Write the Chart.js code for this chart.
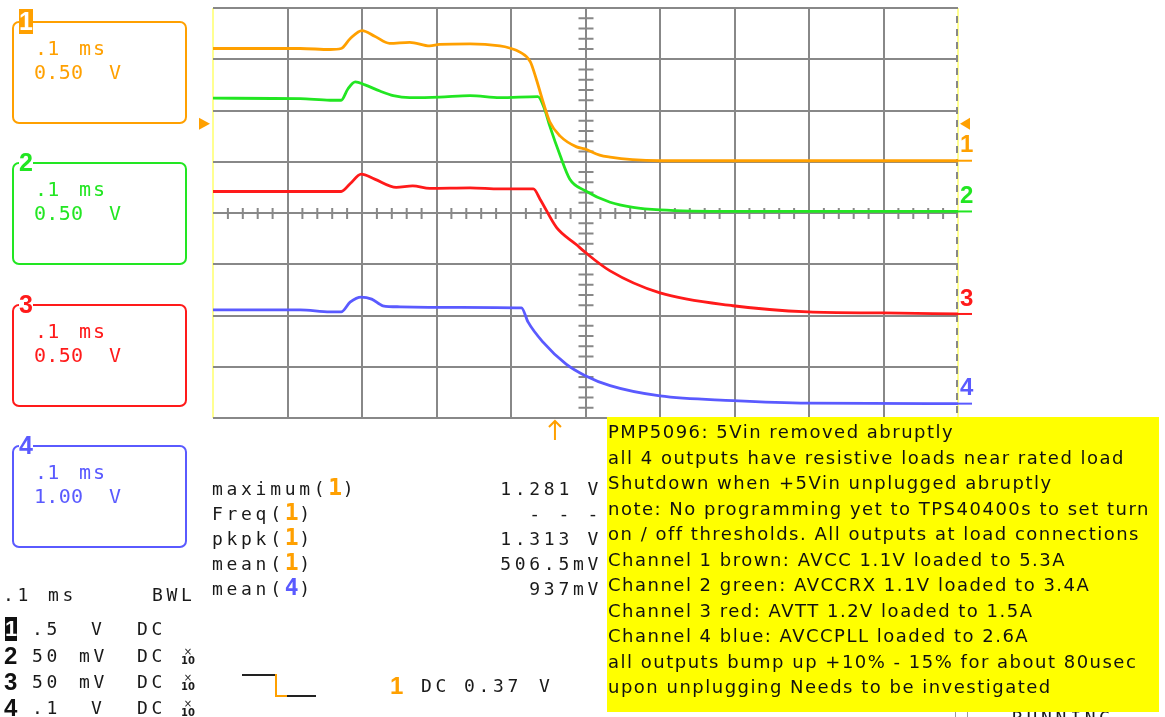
<!DOCTYPE html>
<html lang="en">
<head>
<meta charset="UTF-8">
<title>PMP5096 - 5Vin removed abruptly</title>
<script src="https://cdn.jsdelivr.net/npm/chart.js"></script>
<style>
    body {
        margin: 0;
        background: #fff;
    }
    .screen {
        position: relative;
        width: 1165px;
        height: 717px;
        overflow: hidden;
        background: #fff;
    }
    #scope {
        position: absolute;
        left: 0;
        top: 0;
    }
    #overlay {
        position: absolute;
        left: 0;
        top: 0;
        width: 1165px;
        height: 717px;
    }
    .t {
        position: absolute;
        white-space: pre;
        font-family: "DejaVu Sans Mono", monospace;
        font-size: 18px;
        letter-spacing: 3.7px;
        line-height: 24px;
        height: 24px;
        color: #1a1a1a;
    }
    .chtxt {
        font-size: 20px;
        letter-spacing: 0.3px;
    }
    .chbox {
        position: absolute;
        left: 12px;
        width: 171px;
        height: 99px;
        border: 2px solid;
        border-radius: 7px;
    }
    .tab {
        position: absolute;
        left: 19px;
        width: 14px;
        height: 24px;
        line-height: 24px;
        text-align: center;
        font-family: "Liberation Sans", Arial, sans-serif;
        font-weight: bold;
        font-size: 25px;
        background: #fff;
    }
    .bignum {
        position: absolute;
        font-family: "Liberation Sans", Arial, sans-serif;
        font-weight: bold;
        font-size: 24px;
        line-height: 24px;
        height: 24px;
    }
    .probe {
        position: absolute;
        font-family: "DejaVu Sans", sans-serif;
        font-size: 10px;
        line-height: 9px;
        text-align: center;
        width: 16px;
        color: #1a1a1a;
    }
    .seg {
        position: absolute;
    }
    #note {
        position: absolute;
        left: 607px;
        top: 417px;
        width: 552px;
        height: 295px;
        background: #ffff00;
        box-sizing: border-box;
        padding: 2px 0 0 1px;
        font-family: "DejaVu Sans", sans-serif;
        font-size: 18px;
        letter-spacing: 1.5px;
        line-height: 25.5px;
        color: #111;
        white-space: pre;
        overflow: hidden;
    }
</style>
</head>
<body>
<div class="screen">
    <canvas id="scope" width="1165" height="717"></canvas>
    <div id="overlay"></div>
</div>

<script>
    // Traces: time in µs from screen centre (100 µs/div), level in divisions from centre
    const ch1Time  = [-500, -383, -343, -328, -316, -300, -283, -263, -236, -209, -196, -155, -115, -102, -88, -74, -66, -57, -48, -34, -12, -1, 19, 33, 63, 100, 500];
    const ch1Level = [3.21, 3.21, 3.19, 3.21, 3.40, 3.56, 3.45, 3.31, 3.33, 3.26, 3.29, 3.30, 3.26, 3.22, 3.14, 2.95, 2.61, 2.17, 1.78, 1.50, 1.29, 1.25, 1.13, 1.09, 1.04, 1.02, 1.02];

    const ch2Time  = [-500, -383, -343, -328, -319, -309, -296, -276, -258, -236, -196, -155, -115, -64, -55, -48, -34, -21, -1, 33, 64, 100, 198, 500];
    const ch2Level = [2.24, 2.23, 2.20, 2.20, 2.42, 2.56, 2.50, 2.38, 2.29, 2.25, 2.26, 2.29, 2.25, 2.27, 2.03, 1.70, 1.12, 0.66, 0.44, 0.21, 0.11, 0.06, 0.03, 0.03];

    const ch3Time  = [-500, -383, -328, -316, -301, -283, -254, -232, -209, -155, -115, -70, -61, -39, -12, -1, 33, 100, 198, 299, 399, 500];
    const ch3Level = [0.42, 0.42, 0.42, 0.57, 0.76, 0.66, 0.50, 0.53, 0.48, 0.49, 0.47, 0.47, 0.27, -0.28, -0.62, -0.76, -1.13, -1.56, -1.81, -1.93, -1.95, -1.97];

    const ch4Time  = [-500, -383, -343, -328, -316, -301, -287, -272, -249, -168, -86, -77, -57, -26, -1, 33, 100, 198, 299, 500];
    const ch4Level = [-1.89, -1.89, -1.93, -1.93, -1.74, -1.64, -1.68, -1.81, -1.83, -1.84, -1.85, -2.13, -2.52, -2.95, -3.17, -3.37, -3.57, -3.66, -3.71, -3.72];

    const ch1RefLevel = 1.74;     // channel 1 marker on both edges
    const triggerTime = -41;      // trigger position arrow under the grid

    const channelNames  = ['1', '2', '3', '4'];
    const channelColors = ['#ffa000', '#22e622', '#ff1a1a', '#5a5aff'];
    const channelTimebase = ['.1 ms', '.1 ms', '.1 ms', '.1 ms'];
    const channelScale  = ['0.50 V', '0.50 V', '0.50 V', '1.00 V'];

    const measureNames   = ['maximum', 'Freq', 'pkpk', 'mean', 'mean'];
    const measureSources = [1, 1, 1, 1, 4];
    const measureValues  = ['1.281 V', '- - -', '1.313 V', '506.5mV', '937mV'];

    const rowScale    = ['.5', '50', '50', '.1'];
    const rowUnit     = ['V', 'mV', 'mV', 'V'];
    const rowCoupling = ['DC', 'DC', 'DC', 'DC'];
    const rowProbe    = [false, true, true, true];

    const noteLines = [
        'PMP5096: 5Vin removed abruptly',
        'all 4 outputs have resistive loads near rated load',
        'Shutdown when +5Vin unplugged abruptly',
        'note: No programming yet to TPS40400s to set turn',
        'on / off thresholds. All outputs at load connections',
        'Channel 1 brown: AVCC 1.1V loaded to 5.3A',
        'Channel 2 green: AVCCRX 1.1V loaded to 3.4A',
        'Channel 3 red: AVTT 1.2V loaded to 1.5A',
        'Channel 4 blue: AVCCPLL loaded to 2.6A',
        'all outputs bump up +10% - 15% for about 80usec',
        'upon unplugging Needs to be investigated'
    ];

    const traces = [[ch1Time, ch1Level], [ch2Time, ch2Level], [ch3Time, ch3Level], [ch4Time, ch4Level]];

    const gridGray = '#888888';
    const edgeYellow = '#ffff90';

    // graticule extras, channel markers and trigger arrow
    const scopeDecor = {
        id: 'scopeDecor',
        beforeDatasetsDraw(chart) {
            const { ctx, chartArea: a, scales: { x, y } } = chart;
            const x0 = x.getPixelForValue(0);
            const y0 = y.getPixelForValue(0);
            ctx.save();
            ctx.strokeStyle = gridGray;
            ctx.lineWidth = 2;
            ctx.beginPath();
            for (let i = -24; i <= 24; i++) {
                if (i % 5 === 0) continue;
                const px = x.getPixelForValue(i * 20);
                ctx.moveTo(px, y0 - 5);
                ctx.lineTo(px, y0 + 6);
            }
            for (let i = -19; i <= 19; i++) {
                if (i % 5 === 0) continue;
                const py = y.getPixelForValue(i / 5);
                ctx.moveTo(x0 - 7, py);
                ctx.lineTo(x0 + 8, py);
            }
            ctx.stroke();
            // dashed right edge over the yellow line
            ctx.setLineDash([7, 6]);
            ctx.beginPath();
            ctx.moveTo(a.right - 1, a.top + 8);
            ctx.lineTo(a.right - 1, a.bottom);
            ctx.stroke();
            ctx.restore();
        },
        afterDraw(chart) {
            const { ctx, chartArea: a, scales: { x, y } } = chart;
            ctx.save();
            // channel ground markers at the right edge
            chart.data.datasets.forEach((ds, i) => {
                const last = ds.data[ds.data.length - 1];
                const py = y.getPixelForValue(last.y);
                ctx.strokeStyle = ds.borderColor;
                ctx.lineWidth = 2;
                ctx.beginPath();
                ctx.moveTo(a.right, py);
                ctx.lineTo(a.right + 14, py);
                ctx.stroke();
                ctx.fillStyle = ds.borderColor;
                ctx.font = 'bold 24px "Liberation Sans", Arial, sans-serif';
                ctx.textBaseline = 'middle';
                ctx.fillText(channelNames[i], a.right + 2, py - 15);
            });
            // channel 1 reference triangles
            const ry = y.getPixelForValue(ch1RefLevel);
            ctx.fillStyle = channelColors[0];
            ctx.beginPath();
            ctx.moveTo(a.left - 14, ry - 6);
            ctx.lineTo(a.left - 3, ry);
            ctx.lineTo(a.left - 14, ry + 6);
            ctx.closePath();
            ctx.fill();
            ctx.beginPath();
            ctx.moveTo(a.right + 2, ry);
            ctx.lineTo(a.right + 12, ry - 6);
            ctx.lineTo(a.right + 12, ry + 6);
            ctx.closePath();
            ctx.fill();
            // trigger position arrow
            const tx = x.getPixelForValue(triggerTime);
            ctx.strokeStyle = channelColors[0];
            ctx.lineWidth = 2;
            ctx.beginPath();
            ctx.moveTo(tx, a.bottom + 3);
            ctx.lineTo(tx, a.bottom + 22);
            ctx.moveTo(tx - 6, a.bottom + 9);
            ctx.lineTo(tx, a.bottom + 3);
            ctx.lineTo(tx + 6, a.bottom + 9);
            ctx.stroke();
            ctx.restore();
        }
    };

    const edgeColor = c => (c.tick && Math.abs(c.tick.value) === 500) ? edgeYellow : gridGray;

    new Chart(document.getElementById('scope'), {
        type: 'line',
        data: {
            datasets: traces.map((tr, i) => ({
                label: 'Channel ' + channelNames[i],
                data: tr[0].map((t, k) => ({ x: t, y: tr[1][k] })),
                borderColor: channelColors[i],
                borderWidth: 2.8,
                pointRadius: 0,
                cubicInterpolationMode: 'monotone',
                fill: false
            }))
        },
        options: {
            responsive: false,
            animation: false,
            events: [],
            layout: { padding: { left: 213, right: 207, top: 8, bottom: 299 } },
            scales: {
                x: {
                    type: 'linear',
                    min: -500,
                    max: 500,
                    ticks: { stepSize: 100, display: false },
                    grid: { color: edgeColor, lineWidth: 2, drawTicks: false },
                    border: { display: false },
                    afterFit(s) { s.height = 0; }
                },
                y: {
                    min: -4,
                    max: 4,
                    ticks: { stepSize: 1, display: false },
                    grid: { color: gridGray, lineWidth: 2, drawTicks: false },
                    border: { display: false },
                    afterFit(s) { s.width = 0; }
                }
            },
            plugins: {
                legend: { display: false },
                tooltip: { enabled: false }
            }
        },
        plugins: [scopeDecor]
    });

    // ---- text panels ----
    const overlay = document.getElementById('overlay');

    function addEl(cls, html, left, top, style) {
        const d = document.createElement('div');
        d.className = cls;
        d.innerHTML = html;
        d.style.left = left + 'px';
        d.style.top = top + 'px';
        if (style) Object.assign(d.style, style);
        overlay.appendChild(d);
        return d;
    }

    // channel setting boxes on the left
    const boxTops = [21, 162, 304, 445];
    channelNames.forEach((name, i) => {
        const top = boxTops[i];
        const col = channelColors[i];
        addEl('chbox', '', 12, top, { borderColor: col });
        if (i === 0) {
            addEl('tab', name, 19, top - 12, { background: col, color: '#fff', height: '25px' });
        } else {
            addEl('tab', name, 19, top - 12, { color: col });
        }
        const [tbNum, tbUnit] = channelTimebase[i].split(' ');
        const [scNum, scUnit] = channelScale[i].split(' ');
        addEl('t chtxt', tbNum, 35, top + 27 - 12, { color: col });
        addEl('t chtxt', tbUnit, 79, top + 27 - 12, { color: col, letterSpacing: '2px' });
        addEl('t chtxt', scNum, 34, top + 51 - 12, { color: col });
        addEl('t chtxt', scUnit, 109, top + 51 - 12, { color: col });
    });

    // measurement readouts
    measureNames.forEach((name, i) => {
        const cy = 489 + 25 * i;
        const src = measureSources[i];
        const col = channelColors[src - 1];
        addEl('t', name + '(<b style="color:' + col + ';font-size:23px;letter-spacing:0.6px;line-height:0">' + src + '</b>)', 212, cy - 12);
        addEl('t', measureValues[i], 0, cy - 12, { right: '563px', left: 'auto', textAlign: 'right' });
    });

    // acquisition settings, bottom left
    addEl('t', '.1', 3, 595 - 12);
    addEl('t', 'ms', 48, 595 - 12);
    addEl('t', 'BWL', 152, 595 - 12);

    const rowCentres = [629, 656, 682, 708];
    rowScale.forEach((sc, i) => {
        const cy = rowCentres[i];
        if (i === 0) {
            addEl('bignum', channelNames[i], 5, cy - 12, { background: '#111', color: '#fff', width: '12px', textAlign: 'center', fontSize: '22px' });
        } else {
            addEl('bignum', channelNames[i], 4, cy - 12, { color: '#111' });
        }
        addEl('t', sc, 32, cy - 12);
        addEl('t', rowUnit[i], rowUnit[i] === 'V' ? 91 : 79, cy - 12);
        addEl('t', rowCoupling[i], 137, cy - 12);
        if (rowProbe[i]) addEl('probe', '×<br><b>10</b>', 180, cy - 9);
    });

    // trigger symbol and trigger level readout
    addEl('seg', '', 242, 674, { width: '33px', height: '2px', background: '#222' });
    addEl('seg', '', 275, 674, { width: '2px', height: '23px', background: channelColors[0] });
    addEl('seg', '', 275, 695, { width: '12px', height: '2px', background: channelColors[0] });
    addEl('seg', '', 287, 695, { width: '29px', height: '2px', background: '#222' });
    addEl('bignum', '1', 390, 686 - 12, { color: channelColors[0] });
    addEl('t', 'DC', 421, 686 - 12);
    addEl('t', '0.37', 464, 686 - 12);
    addEl('t', 'V', 539, 686 - 12);

    // run state partly hidden behind the note
    addEl('seg', '', 955, 709, { width: '11px', height: '11px', border: '1px solid #999' });
    addEl('t', 'RUNNING', 1012, 706);

    // annotation note
    const note = document.createElement('div');
    note.id = 'note';
    note.textContent = noteLines.join('\n');
    overlay.appendChild(note);
</script>
</body>
</html>
